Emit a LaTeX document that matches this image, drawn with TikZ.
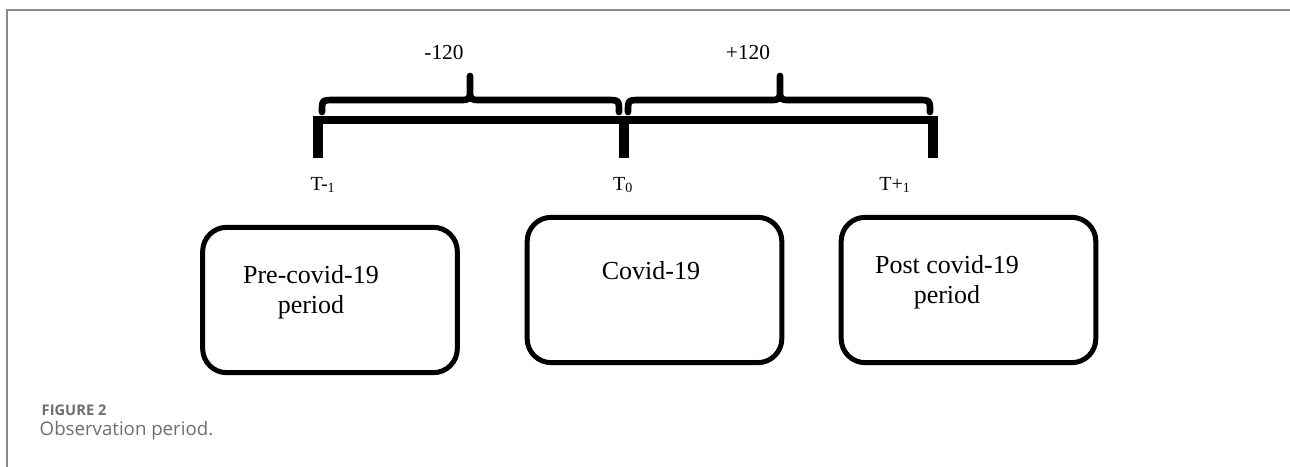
\documentclass[tikz,border=0pt]{standalone}
\usepackage{fontspec}
\setmainfont{Liberation Serif}
\newfontfamily\capfont{Open Sans}
\definecolor{framegray}{HTML}{8A8A8A}
\definecolor{capgray}{HTML}{6E6E6E}
\tikzset{
  period/.style={draw, line width=3.75pt, rounded corners=18pt, minimum width=191pt, minimum height=109pt},
  periodtext/.style={align=center, font=\fontsize{19.5}{22.5}\selectfont},
  brace/.style={line width=5pt, line cap=round},
  tickmark/.style={line width=7pt}
}
\begin{document}
\begin{tikzpicture}[x=0.75pt,y=-0.75pt]
        \useasboundingbox (0,0) rectangle (1290,467);
        \draw [color = framegray, line width=1.5pt] (7,467) -- (7,10) -- (1290,10);
        \coordinate (tm) at (318,120);
        \coordinate (tz) at (624,120);
        \coordinate (tp) at (933,120);
        \draw [line width=6pt] ([xshift=-3.5pt]tm) -- ([xshift=3.5pt]tp);
        \foreach \t in {tm,tz,tp}{
          \draw [tickmark] (\t) -- ++(0,38);
        }
        \foreach \a/\m/\b in {322/470/619, 628/780/930}{
          \draw [brace] (\a,112) .. controls (\a,100) .. (\a+13,100) -- (\m-11,100) .. controls (\m,100) .. (\m,89) -- (\m,76)
            (\m,89) .. controls (\m,100) .. (\m+11,100) -- (\b-13,100) .. controls (\b,100) .. (\b,112);
        }
        \node [font=\fontsize{16}{18}\selectfont] (minus) at (444,53) {-120};
        \node [font=\fontsize{16}{18}\selectfont] (plus) at (748,53) {+120};
        \node [font=\fontsize{15}{17}\selectfont] (tmlab) at (323,185) {T-\textsubscript{1}};
        \node [font=\fontsize{15}{17}\selectfont] (tzlab) at (623,185) {T\textsubscript{0}};
        \node [font=\fontsize{15}{17}\selectfont] (tplab) at (895,185) {T+\textsubscript{1}};
        % the three periods
        \node [period] (pre) at (330,300) {};
        \node [period] (cov) at (654.5,290) {};
        \node [period] (post) at (968.5,290) {};
        \node [periodtext] (pretext) at (311,292) {Pre-covid-19\\period};
        \node [periodtext] (covtext) at (651,271) {Covid-19};
        \node [periodtext] (posttext) at (947,282) {Post covid-19\\period};
        % caption
        \node [anchor=west, color = capgray, font=\capfont\fontsize{11}{13}\bfseries\selectfont] (figno) at (37,410) {FIGURE 2};
        \node [anchor=west, color = capgray, font=\capfont\fontsize{14}{16}\selectfont] (figtitle) at (35,431) {Observation period.};
      \end{tikzpicture}
\end{document}
